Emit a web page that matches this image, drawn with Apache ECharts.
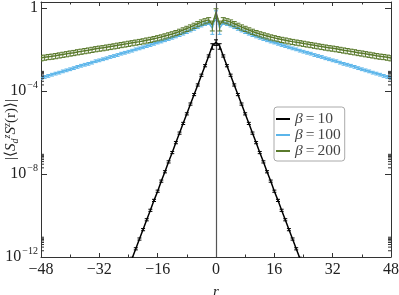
<!DOCTYPE html>
<html><head><meta charset="utf-8">
<script src="https://cdn.jsdelivr.net/npm/echarts@6/dist/echarts.min.js"></script>
<style>html,body{margin:0;padding:0;background:#fff}#c{width:399px;height:295px}</style>
</head><body><div id="c"></div>
<script>
// distances r
const rAll = [-48,-47,-46,-45,-44,-43,-42,-41,-40,-39,-38,-37,-36,-35,-34,-33,-32,-31,-30,-29,-28,-27,-26,-25,-24,-23,-22,-21,-20,-19,-18,-17,-16,-15,-14,-13,-12,-11,-10,-9,-8,-7,-6,-5,-4,-3,-2,-1,0,1,2,3,4,5,6,7,8,9,10,11,12,13,14,15,16,17,18,19,20,21,22,23,24,25,26,27,28,29,30,31,32,33,34,35,36,37,38,39,40,41,42,43,44,45,46,47,48];
const rBlack = [-24,-23,-22,-21,-20,-19,-18,-17,-16,-15,-14,-13,-12,-11,-10,-9,-8,-7,-6,-5,-4,-3,-2,-1,0,1,2,3,4,5,6,7,8,9,10,11,12,13,14,15,16,17,18,19,20,21,22,23,24];

// beta = 10
const beta10 = [3.0e-13,8.7e-13,2.5e-12,7.4e-12,2.1e-11,6.3e-11,1.8e-10,5.4e-10,1.5e-9,4.6e-9,1.3e-8,3.9e-8,1.1e-7,3.3e-7,9.5e-7,2.8e-6,8.1e-6,2.4e-5,6.9e-5,2.0e-4,5.9e-4,1.7e-3,0.0050,0.015,
  0.023,
  0.015,0.0050,1.7e-3,5.9e-4,2.0e-4,6.9e-5,2.4e-5,8.1e-6,2.8e-6,9.5e-7,3.3e-7,1.1e-7,3.9e-8,1.3e-8,4.6e-9,1.5e-9,5.4e-10,1.8e-10,6.3e-11,2.1e-11,7.4e-12,2.5e-12,8.7e-13,3.0e-13];

// beta = 100
const beta100 = [0.00044,0.00049,0.00055,0.00063,0.00071,0.00079,0.00091,0.00102,0.00115,0.0013,0.0015,0.0017,0.0019,0.0021,0.0024,0.0028,0.0031,0.0035,0.0039,0.0045,0.0050,0.0056,0.0065,0.0072,0.0081,0.0091,0.0105,0.0117,0.0132,0.0151,0.0170,0.0195,0.0224,0.0251,0.0288,0.033,0.038,0.044,0.051,0.060,0.071,0.085,0.102,0.123,0.148,0.174,0.195,0.11,
  0.50,
  0.11,0.195,0.174,0.148,0.123,0.102,0.085,0.071,0.060,0.051,0.044,0.038,0.033,0.0288,0.0251,0.0224,0.0195,0.0170,0.0151,0.0132,0.0117,0.0105,0.0091,0.0081,0.0072,0.0065,0.0056,0.0050,0.0045,0.0039,0.0035,0.0031,0.0028,0.0024,0.0021,0.0019,0.0017,0.0015,0.0013,0.00115,0.00102,0.00091,0.00079,0.00071,0.00063,0.00055,0.00049,0.00044];

// beta = 200
const beta200 = [0.0040,0.0043,0.0046,0.0048,0.0051,0.0055,0.0059,0.0063,0.0068,0.0072,0.0078,0.0083,0.0089,0.0095,0.0102,0.0110,0.0117,0.0123,0.0132,0.0141,0.0151,0.0162,0.0174,0.0186,0.0200,0.0214,0.0229,0.0245,0.0263,0.0288,0.0309,0.0339,0.0372,0.0407,0.0457,0.0513,0.0575,0.066,0.076,0.089,0.105,0.123,0.148,0.178,0.214,0.245,0.275,0.16,
  0.63,
  0.16,0.275,0.245,0.214,0.178,0.148,0.123,0.105,0.089,0.076,0.066,0.0575,0.0513,0.0457,0.0407,0.0372,0.0339,0.0309,0.0288,0.0263,0.0245,0.0229,0.0214,0.0200,0.0186,0.0174,0.0162,0.0151,0.0141,0.0132,0.0123,0.0117,0.0110,0.0102,0.0095,0.0089,0.0083,0.0078,0.0072,0.0068,0.0063,0.0059,0.0055,0.0051,0.0048,0.0046,0.0043,0.0040];

// relative error sizes (typical, and at the central points r = 0, ±1)
const relErr10 = 0.12, relErr10Center = 0.3;
const relErr100 = 0.15, relErr100Center = 0.5;
const relErr200 = 0.28, relErr200Center = 0.5;

const xTicks = [-48,-32,-16,0,16,32,48];
const yTicks = [1e-12,1e-8,1e-4,1];
const yMinorTicks = [2e-12,3e-12,4e-12,5e-12,6e-12,7e-12,8e-12,9e-12,2e-8,3e-8,4e-8,5e-8,6e-8,7e-8,8e-8,9e-8,2e-4,3e-4,4e-4,5e-4,6e-4,7e-4,8e-4,9e-4];

const legendNames = ['β = 10','β = 100','β = 200'];
const colors = ['#000000','#5bb5ea','#5a7a2c'];

const FONT = 'Liberation Serif';
const chart = echarts.init(document.getElementById('c'), null, {renderer:'canvas'});

function zip(xs, ys){ return xs.map((x,i)=>[x, ys[i]]); }
function errData(xs, ys, rel, relC){
  return xs.map((x,i)=>{
    const e = Math.abs(x) <= 1 ? relC : rel;
    return [x, ys[i]*(1-e), ys[i]*(1+e)];
  });
}
function errSeries(id, data, color, capHalf, z){
  return {
    type:'custom', id:id, name:id, silent:true, z:z, clip:true,
    encode:{x:0, y:[1,2]},
    data:data,
    renderItem:function(params, api){
      const lo = api.coord([api.value(0), api.value(1)]);
      const hi = api.coord([api.value(0), api.value(2)]);
      const st = {stroke:color, lineWidth:1};
      return {type:'group', children:[
        {type:'line', shape:{x1:lo[0],y1:lo[1],x2:hi[0],y2:hi[1]}, style:st},
        {type:'line', shape:{x1:lo[0]-capHalf,y1:lo[1],x2:lo[0]+capHalf,y2:lo[1]}, style:st},
        {type:'line', shape:{x1:hi[0]-capHalf,y1:hi[1],x2:hi[0]+capHalf,y2:hi[1]}, style:st}
      ]};
    }
  };
}
function lineSeries(name, data, color, z){
  return {
    type:'line', name:name, data:data, showSymbol:false, symbol:'none', z:z,
    lineStyle:{color:color, width:1.5}, itemStyle:{color:color}, clip:true, animation:false
  };
}

function expOf(v){ return Math.round(Math.log10(v)); }
function yLabel(v){
  const e = expOf(v);
  if (e === 0) return '1';
  return '10{s|' + (e < 0 ? '−' + (-e) : e) + '}';
}

const axisLineStyle = {color:'#333', width:1};
const option = {
  animation:false,
  backgroundColor:'#fff',
  grid:{left:41, right:8, top:2, bottom:38, containLabel:false, outerBoundsMode:'none'},
  legend:{
    data:legendNames, left:274, top:107, orient:'vertical',
    backgroundColor:'#fff', borderColor:'#aaa', borderWidth:1, borderRadius:3,
    padding:[4,4,2,2], itemGap:0, itemWidth:14, itemHeight:2, icon:'rect',
    formatter:function(n){ return '{b|β}{e|=}' + n.split(' = ')[1]; },
    textStyle:{fontFamily:FONT, fontSize:15.5, color:'#444', lineHeight:15,
      rich:{
        b:{fontFamily:FONT, fontStyle:'italic', fontSize:15.5, color:'#444'},
        e:{fontFamily:FONT, fontSize:15.5, color:'#444', padding:[0,3,0,3]}
      }}
  },
  xAxis:[{
    type:'value', min:-48, max:48, interval:16, position:'bottom',
    axisLine:{show:true, lineStyle:axisLineStyle, onZero:false},
    axisTick:{show:true, inside:true, length:4, lineStyle:axisLineStyle},
    minorTick:{show:true, splitNumber:2, length:2.5, lineStyle:axisLineStyle},
    splitLine:{show:false},
    axisLabel:{fontFamily:FONT, fontSize:16, color:'#222', margin:5,
      formatter:function(v){ return v < 0 ? '−' + (-v) : String(v); }},
    name:'r', nameLocation:'middle', nameGap:28,
    nameTextStyle:{fontFamily:FONT, fontStyle:'italic', fontSize:15, color:'#222'}
  },{
    type:'value', min:-48, max:48, interval:16, position:'top',
    axisLine:{show:true, lineStyle:axisLineStyle, onZero:false},
    axisTick:{show:true, inside:true, length:4, lineStyle:axisLineStyle},
    minorTick:{show:true, splitNumber:2, length:2.5, lineStyle:axisLineStyle},
    splitLine:{show:false}, axisLabel:{show:false}
  }],
  yAxis:[{
    type:'log', logBase:10, min:1e-12, max:2, interval:4, position:'left',
    axisLine:{show:true, lineStyle:axisLineStyle, onZero:false},
    axisTick:{show:true, inside:true, length:6, lineStyle:axisLineStyle},
    splitLine:{show:false},
    axisLabel:{fontFamily:FONT, fontSize:16, color:'#222', margin:3, showMaxLabel:false,
      lineHeight:21,
      formatter:yLabel,
      rich:{s:{fontFamily:FONT, fontSize:10, color:'#222', lineHeight:9, verticalAlign:'top', padding:[0,0,0,1]}}},
    name:'|⟨{i|S}{b|d}{s|z}{i|S}{s|z}(r)⟩|',
    nameLocation:'middle', nameGap:21, nameMoveOverlap:false,
    nameTextStyle:{fontFamily:FONT, fontSize:15, color:'#222', lineHeight:18,
      rich:{
        i:{fontFamily:FONT, fontStyle:'italic', fontSize:15, color:'#222'},
        s:{fontFamily:FONT, fontStyle:'italic', fontSize:10, color:'#222', lineHeight:10, verticalAlign:'top'},
        b:{fontFamily:FONT, fontStyle:'italic', fontSize:10, color:'#222', lineHeight:10, verticalAlign:'bottom'}
      }}
  },{
    type:'log', logBase:10, min:1e-12, max:2, interval:4, position:'right',
    axisLine:{show:true, lineStyle:axisLineStyle, onZero:false},
    axisTick:{show:true, inside:true, length:6, lineStyle:axisLineStyle},
    splitLine:{show:false}, axisLabel:{show:false}
  }],
  series:[
    Object.assign(lineSeries('β = 10', zip(rBlack, beta10), colors[0], 5), {
      markLine:{silent:true, symbol:'none', label:{show:false}, animation:false,
        lineStyle:{color:'#555', width:1.2, type:'solid'}, data:[{xAxis:0}]}
    }),
    errSeries('e10', errData(rBlack, beta10, relErr10, relErr10Center), colors[0], 2, 5),
    lineSeries('β = 100', zip(rAll, beta100), colors[1], 3),
    errSeries('e100', errData(rAll, beta100, relErr100, relErr100Center), colors[1], 2, 3),
    lineSeries('β = 200', zip(rAll, beta200), colors[2], 4),
    errSeries('e200', errData(rAll, beta200, relErr200, relErr200Center), colors[2], 2.5, 4),
    {
      type:'custom', id:'yminor', silent:true, z:6, clip:false,
      encode:{x:0, y:1},
      data:yMinorTicks.map(v=>[-48, v]),
      renderItem:function(params, api){
        const p = api.coord([-48, api.value(1)]);
        const q = api.coord([48, api.value(1)]);
        const st = {stroke:'#333', lineWidth:1};
        return {type:'group', children:[
          {type:'line', shape:{x1:p[0],y1:p[1],x2:p[0]+3,y2:p[1]}, style:st},
          {type:'line', shape:{x1:q[0],y1:q[1],x2:q[0]-3,y2:q[1]}, style:st}
        ]};
      }
    }
  ]
};
chart.setOption(option);
</script>
</body></html>
